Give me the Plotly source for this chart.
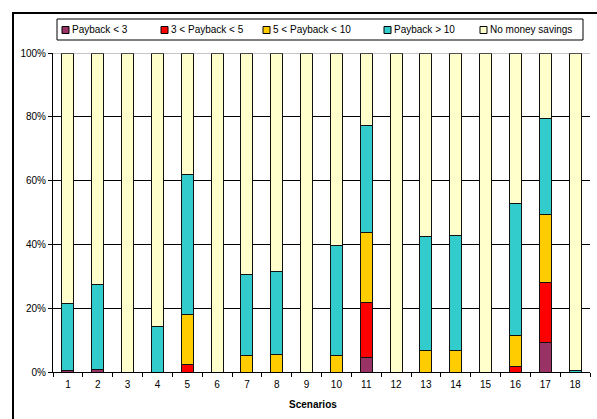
import plotly.graph_objects as go

# Share of each payback class per scenario (percent of cases)
scenarios = [str(i) for i in range(1, 19)]
payback_lt3 = [0.5, 0.7, 0, 0, 0, 0, 0, 0, 0, 0, 4.6, 0, 0, 0, 0, 0, 9.3, 0]
payback_3_5 = [0, 0, 0, 0, 2.5, 0, 0, 0, 0, 0, 17.1, 0, 0, 0, 0, 1.8, 18.8, 0]
payback_5_10 = [0, 0, 0, 0, 15.4, 0, 5.3, 5.5, 0, 5.2, 22.0, 0, 6.7, 6.7, 0, 9.5, 21.4, 0]
payback_gt10 = [21.0, 26.6, 0, 14.2, 43.9, 0, 25.3, 25.9, 0, 34.6, 33.6, 0, 35.9, 36.2, 0, 41.6, 29.9, 0.5]
no_savings = [round(100 - a - b - c - d, 1) for a, b, c, d in
              zip(payback_lt3, payback_3_5, payback_5_10, payback_gt10)]

series_names = ["Payback < 3", "3 < Payback < 5", "5 < Payback < 10",
                "Payback > 10", "No money savings"]
series_values = [payback_lt3, payback_3_5, payback_5_10, payback_gt10, no_savings]
series_colors = ["#993366", "#FF0000", "#FFCC00", "#33CCCC", "#FFFFCC"]

y_ticks = [0, 20, 40, 60, 80, 100]
y_tick_labels = ["0%", "20%", "40%", "60%", "80%", "100%"]

W, H = 597, 419
L, R, T, B = 53, 7, 53, 47
PW, PH = W - L - R, H - T - B


def xp(px):
    return (px - L) / PW


def yp(py):
    return (H - B - py) / PH


FONT = "Liberation Sans, Arial, sans-serif"

fig = go.Figure()
for name, vals, col in zip(series_names, series_values, series_colors):
    fig.add_trace(go.Bar(
        x=scenarios, y=[v if v > 0 else None for v in vals], name=name,
        marker=dict(color=col, line=dict(color="#111111", width=1)),
        showlegend=False,
    ))

shapes = []
# gray line along the 100% level
shapes.append(dict(type="line", xref="paper", yref="y", x0=0, x1=1, y0=100, y1=100,
                   line=dict(color="#8c8c8c", width=1), layer="above"))
# outer chart frame (left and top edges)
shapes.append(dict(type="path", xref="paper", yref="paper",
                   path=f"M {xp(13)},{yp(440)} L {xp(13)},{yp(13)} L {xp(620)},{yp(13)}",
                   line=dict(color="black", width=2)))
# legend box
shapes.append(dict(type="rect", xref="paper", yref="paper",
                   x0=xp(57), x1=xp(583), y0=yp(19), y1=yp(40),
                   line=dict(color="black", width=1), fillcolor="white"))

annotations = []
legend_marker_x = [62, 161, 263, 384, 480]
for mx, name, col in zip(legend_marker_x, series_names, series_colors):
    shapes.append(dict(type="rect", xref="paper", yref="paper",
                       x0=xp(mx), x1=xp(mx + 7), y0=yp(26.5), y1=yp(33.5),
                       line=dict(color="black", width=1), fillcolor=col))
    annotations.append(dict(xref="paper", yref="paper", x=xp(mx + 8), y=yp(30),
                            xanchor="left", yanchor="middle", showarrow=False,
                            text=name, font=dict(family=FONT, size=10, color="black")))

annotations.append(dict(xref="paper", yref="paper", x=xp(313), y=yp(404),
                        xanchor="center", yanchor="middle", showarrow=False,
                        text="<b>Scenarios</b>",
                        font=dict(family=FONT, size=10, color="black")))

fig.update_layout(
    width=W, height=H,
    margin=dict(l=L, r=R, t=T, b=B, pad=0),
    barmode="stack", bargap=0.6,
    paper_bgcolor="white", plot_bgcolor="white",
    font=dict(family=FONT, size=10, color="black"),
    shapes=shapes, annotations=annotations,
    xaxis=dict(type="category", showgrid=False, showline=True, linecolor="black",
               linewidth=1, ticks="outside", tickson="boundaries", ticklen=4,
               tickcolor="black", ticklabelstandoff=3,
               tickfont=dict(family=FONT, size=10, color="black"),
               fixedrange=True),
    yaxis=dict(range=[0, 100], tickvals=y_ticks, ticktext=y_tick_labels,
               showgrid=True, gridcolor="black", gridwidth=1, zeroline=False,
               showline=True, linecolor="black", linewidth=1, ticks="outside",
               ticklen=4, tickcolor="black",
               tickfont=dict(family=FONT, size=10, color="black"), fixedrange=True),
)

fig.write_html("out.html")
